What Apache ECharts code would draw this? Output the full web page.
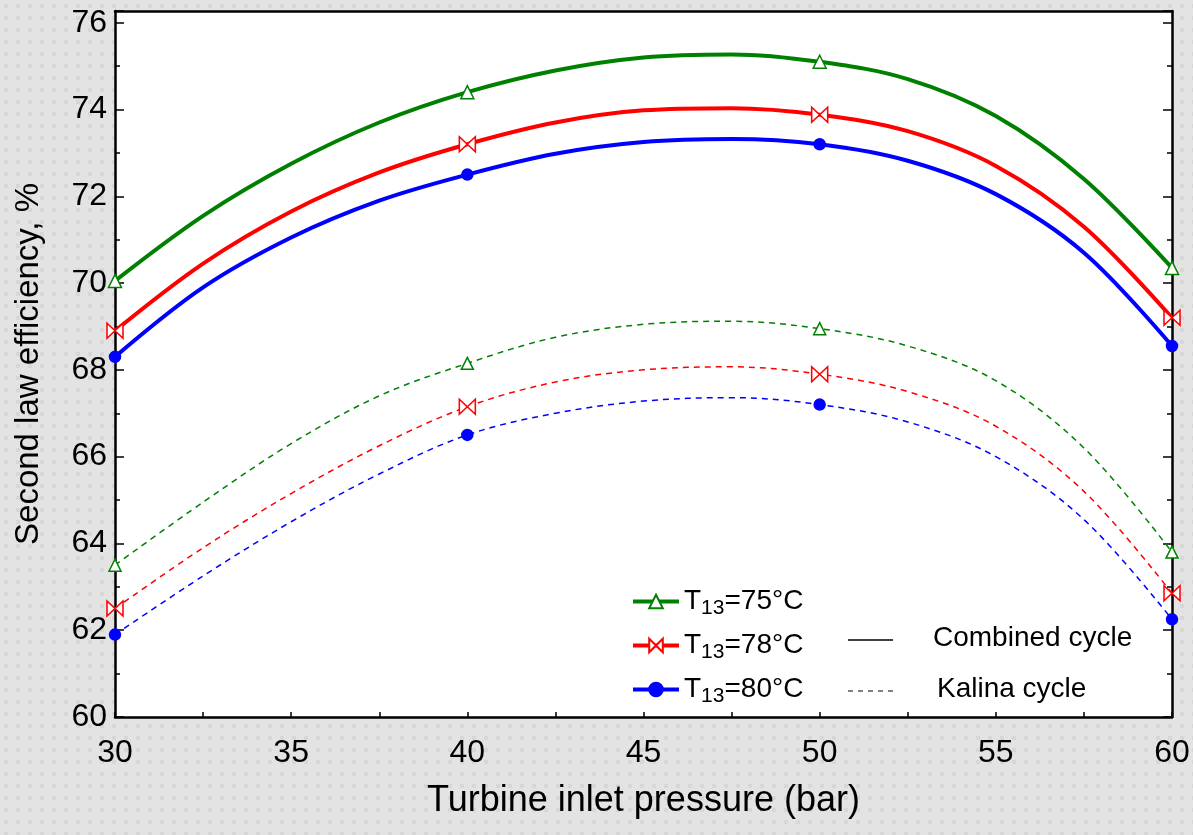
<!DOCTYPE html>
<html>
<head>
<meta charset="utf-8">
<script src="https://cdn.jsdelivr.net/npm/echarts@6/dist/echarts.min.js"></script>
<style>
  html, body { margin: 0; padding: 0; }
  #chart { width: 1193px; height: 835px; }
</style>
</head>
<body>
<div id="chart"></div>
<script>
const pressure = [30, 32.5, 35, 37.5, 40, 42.5, 45, 47.5, 50, 52.5, 55, 57.5, 60];
// pressures that carry a marker
const markerPressure = [30, 40, 50, 60];

// second law efficiency (%), combined cycle
const combined75 = [70.05, 71.55, 72.75, 73.7, 74.4, 74.9, 75.2, 75.27, 75.1, 74.7, 73.85, 72.4, 70.35];
const combined78 = [68.9, 70.45, 71.65, 72.55, 73.2, 73.7, 73.98, 74.03, 73.88, 73.5, 72.7, 71.3, 69.2];
const combined80 = [68.3, 69.9, 71.05, 71.9, 72.5, 72.98, 73.25, 73.32, 73.2, 72.82, 72.05, 70.7, 68.55];

// second law efficiency (%), Kalina cycle
const kalina75 = [63.5, 64.95, 66.3, 67.4, 68.15, 68.75, 69.05, 69.12, 68.95, 68.55, 67.75, 66.2, 63.8];
const kalina78 = [62.5, 63.9, 65.15, 66.25, 67.15, 67.72, 68.0, 68.07, 67.9, 67.5, 66.7, 65.2, 62.85];
const kalina80 = [61.9, 63.25, 64.5, 65.6, 66.5, 67.0, 67.28, 67.36, 67.2, 66.8, 66.0, 64.55, 62.25];

const xTicks = [30, 35, 40, 45, 50, 55, 60];
const yTicks = [60, 62, 64, 66, 68, 70, 72, 74, 76];

const GREEN = '#008000', RED = '#ff0000', BLUE = '#0000ff';
const FONT = 'Liberation Sans, Arial, sans-serif';
const BOWTIE = 'path://M0,0 L0,10 L10,0 L10,10 Z';

// dotted grey backdrop
const pat = document.createElement('canvas');
pat.width = 12; pat.height = 12;
const pctx = pat.getContext('2d');
pctx.fillStyle = '#e3e3e3';
pctx.fillRect(0, 0, 12, 12);
pctx.fillStyle = '#d7d7d7';
pctx.fillRect(4, 4, 4, 4);

function points(values) {
  return pressure.map((p, i) => {
    const item = { value: [p, values[i]] };
    if (markerPressure.indexOf(p) < 0) item.symbol = 'none';
    return item;
  });
}

function curve(name, values, color, symbol, size, fill, dashed) {
  return {
    name: name,
    type: 'line',
    smooth: 0.35,
    data: points(values),
    symbol: symbol,
    symbolSize: size,
    showAllSymbol: true,
    clip: true,
    lineStyle: dashed ? { color: color, width: 1.5, type: [6, 5] } : { color: color, width: 4 },
    itemStyle: { color: fill, borderColor: color, borderWidth: 1.5 },
    emphasis: { disabled: true },
    z: dashed ? 2 : 3
  };
}

const chart = echarts.init(document.getElementById('chart'));

const axisLine = { show: true, lineStyle: { color: '#000', width: 2.5 } };

const option = {
  backgroundColor: { image: pat, repeat: 'repeat' },
  animation: false,
  textStyle: { fontFamily: FONT },
  grid: {
    left: 115, right: 21, top: 11, bottom: 118,
    show: true, backgroundColor: '#fff', borderWidth: 0
  },
  xAxis: [{
    type: 'value', min: 30, max: 60, interval: 5,
    name: 'Turbine inlet pressure (bar)', nameLocation: 'middle', nameGap: 66,
    nameTextStyle: { fontSize: 36, color: '#000', fontFamily: FONT },
    axisLine: axisLine,
    axisTick: { show: true, inside: true, length: 5, lineStyle: { color: '#000', width: 1.5 } },
    minorTick: { show: true, splitNumber: 2, length: 5, lineStyle: { color: '#000', width: 1.5 } },
    axisLabel: { fontSize: 32, color: '#000', margin: 20, fontFamily: FONT,
      formatter: v => xTicks.indexOf(v) >= 0 ? String(v) : '' },
    splitLine: { show: false }
  }, {
    type: 'value', position: 'top', min: 30, max: 60, interval: 5,
    axisLine: axisLine, axisTick: { show: false }, axisLabel: { show: false }, splitLine: { show: false }
  }],
  yAxis: [{
    type: 'value', min: 60, max: 76.27, interval: 2,
    name: 'Second law efficiency, %', nameLocation: 'middle', nameGap: 70,
    nameTextStyle: { fontSize: 33, color: '#000', fontFamily: FONT },
    axisLine: axisLine,
    axisTick: { show: true, inside: true, length: 9, lineStyle: { color: '#000', width: 1.5 } },
    minorTick: { show: true, splitNumber: 2, length: 5, lineStyle: { color: '#000', width: 1.5 } },
    axisLabel: { fontSize: 32, color: '#000', margin: 8, fontFamily: FONT, showMaxLabel: false,
      formatter: v => yTicks.indexOf(v) >= 0 ? String(v) : '' },
    splitLine: { show: false }
  }, {
    type: 'value', position: 'right', min: 60, max: 76.27, interval: 2,
    axisLine: axisLine,
    axisTick: { show: true, inside: true, length: 9, lineStyle: { color: '#000', width: 1.5 } },
    minorTick: { show: true, splitNumber: 2, length: 5, lineStyle: { color: '#000', width: 1.5 } },
    axisLabel: { show: false },
    splitLine: { show: false }
  }],
  legend: {
    data: ['T13=75°C', 'T13=78°C', 'T13=80°C'],
    orient: 'vertical', left: 626, top: 579, itemGap: 9,
    itemWidth: 46, itemHeight: 17,
    lineStyle: { width: 4 },
    formatter: name => '{t|T}{s|13}{t|' + name.slice(3) + '}',
    textStyle: {
      color: '#000', fontFamily: FONT,
      rich: {
        t: { fontSize: 28, fontFamily: FONT, color: '#000', lineHeight: 36 },
        s: { fontSize: 21, fontFamily: FONT, color: '#000', lineHeight: 36, padding: [14, 0, 0, 0] }
      }
    },
    selectedMode: false
  },
  // line-style key (not a series)
  graphic: [
    { type: 'line', shape: { x1: 848, y1: 640, x2: 893, y2: 640 }, style: { stroke: '#000', lineWidth: 1.5 } },
    { type: 'line', shape: { x1: 848, y1: 691, x2: 893, y2: 691 }, style: { stroke: '#000', lineWidth: 1, lineDash: [5, 5] } },
    { type: 'text', left: 933, top: 624, style: { text: 'Combined cycle', fontSize: 28, fontFamily: FONT, fill: '#000' } },
    { type: 'text', left: 937, top: 675, style: { text: 'Kalina cycle', fontSize: 28, fontFamily: FONT, fill: '#000' } }
  ],
  series: [
    curve('T13=75°C', combined75, GREEN, 'triangle', 13, '#fff', false),
    curve('T13=78°C', combined78, RED, BOWTIE, [16, 15], '#fff', false),
    curve('T13=80°C', combined80, BLUE, 'circle', 11, BLUE, false),
    curve('T13=75°C ', kalina75, GREEN, 'triangle', 12, '#fff', true),
    curve('T13=78°C ', kalina78, RED, BOWTIE, [16, 15], '#fff', true),
    curve('T13=80°C ', kalina80, BLUE, 'circle', 11, BLUE, true)
  ]
};

chart.setOption(option);
</script>
</body>
</html>
